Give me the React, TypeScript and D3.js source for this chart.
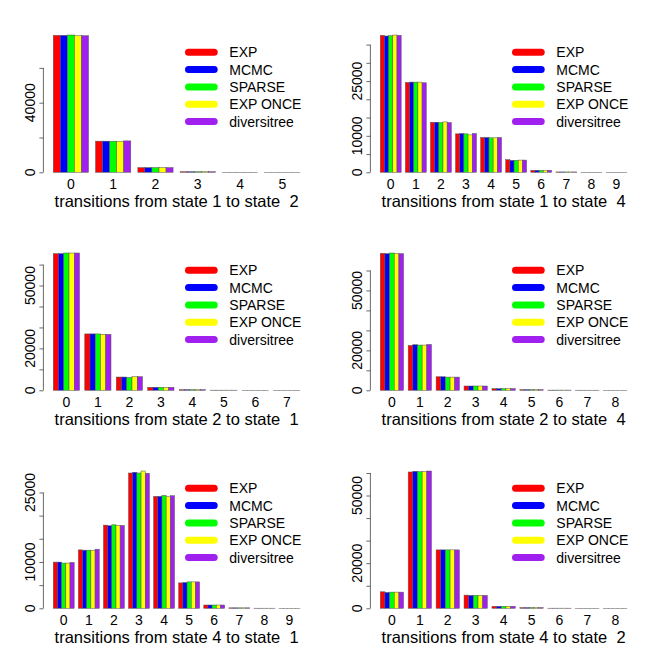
import React, { useEffect, useRef } from "react";
import * as d3 from "d3";

const methods = ["EXP", "MCMC", "SPARSE", "EXP ONCE", "diversitree"];
const colors = ["#FF0000", "#0000FF", "#00FF00", "#FFFF00", "#A020F0"];

// counts per number of transitions (rows) for each method (columns)
const t12 = [
  [78700, 78700, 78900, 78500, 78500],
  [17900, 17900, 17850, 17850, 18050],
  [2700, 2700, 2700, 2700, 2700],
  [350, 350, 340, 350, 350],
  [30, 30, 30, 30, 30],
  [5, 5, 5, 5, 5],
];
const t14 = [
  [37540, 37350, 37440, 37630, 37540],
  [24620, 24720, 24720, 24720, 24540],
  [13720, 13720, 13630, 13810, 13630],
  [10540, 10630, 10540, 10260, 10630],
  [9540, 9540, 9450, 9450, 9540],
  [3450, 3260, 3260, 3350, 3350],
  [540, 540, 540, 540, 540],
  [100, 100, 100, 100, 100],
  [12, 12, 12, 12, 12],
  [2, 2, 2, 2, 2],
];
const t21 = [
  [65210, 65210, 65530, 65530, 65530],
  [26910, 26910, 26910, 26750, 26750],
  [6330, 6330, 6170, 6490, 6490],
  [1430, 1430, 1430, 1430, 1430],
  [320, 320, 320, 320, 320],
  [60, 60, 60, 60, 60],
  [20, 20, 20, 20, 20],
  [5, 5, 5, 5, 5],
];
const t24 = [
  [68580, 68420, 68750, 68580, 68420],
  [22470, 22810, 22640, 22640, 22970],
  [6780, 6780, 6610, 6610, 6610],
  [2150, 2150, 2150, 2150, 2150],
  [830, 830, 830, 830, 830],
  [330, 330, 330, 330, 330],
  [100, 100, 100, 100, 100],
  [40, 40, 40, 40, 40],
  [10, 10, 10, 10, 10],
];
const t41 = [
  [9970, 9970, 9760, 9760, 9900],
  [12610, 12540, 12540, 12540, 12750],
  [17950, 17810, 18020, 17880, 17880],
  [29200, 29350, 29200, 29630, 29130],
  [24150, 24150, 24360, 24070, 24290],
  [5480, 5560, 5700, 5700, 5700],
  [710, 710, 710, 710, 710],
  [100, 100, 100, 100, 100],
  [20, 20, 20, 20, 20],
  [5, 5, 5, 5, 5],
];
const t42 = [
  [7320, 7020, 7170, 7170, 7170],
  [60440, 60730, 60580, 60580, 60870],
  [25900, 25900, 25900, 25900, 25900],
  [5850, 5710, 5710, 5710, 5710],
  [880, 880, 880, 880, 880],
  [300, 300, 300, 300, 300],
  [50, 50, 50, 50, 50],
  [10, 10, 10, 10, 10],
  [5, 5, 5, 5, 5],
];

const titles = [
  "transitions from state 1 to state  2",
  "transitions from state 1 to state  4",
  "transitions from state 2 to state  1",
  "transitions from state 2 to state  4",
  "transitions from state 4 to state  1",
  "transitions from state 4 to state  2",
];
const yTicks12 = [0, 20000, 40000, 60000];
const yLabels12 = [0, 40000];
const yTicks14 = [0, 5000, 10000, 15000, 20000, 25000, 30000, 35000];
const yLabels14 = [0, 10000, 25000];
const yTicks21 = [0, 10000, 20000, 30000, 40000, 50000, 60000];
const yLabels21 = [0, 20000, 50000];
const yTicks24 = [0, 10000, 20000, 30000, 40000, 50000, 60000];
const yLabels24 = [0, 20000, 50000];
const yTicks41 = [0, 5000, 10000, 15000, 20000, 25000];
const yLabels41 = [0, 10000, 25000];
const yTicks42 = [0, 10000, 20000, 30000, 40000, 50000, 60000];
const yLabels42 = [0, 20000, 50000];

const panels = [
  { data: t12, title: titles[0], ticks: yTicks12, labels: yLabels12 },
  { data: t14, title: titles[1], ticks: yTicks14, labels: yLabels14 },
  { data: t21, title: titles[2], ticks: yTicks21, labels: yLabels21 },
  { data: t24, title: titles[3], ticks: yTicks24, labels: yLabels24 },
  { data: t41, title: titles[4], ticks: yTicks41, labels: yLabels41 },
  { data: t42, title: titles[5], ticks: yTicks42, labels: yLabels42 },
];

const FONT = "'Liberation Sans', Arial, Helvetica, sans-serif";

export default function App() {
  const ref = useRef<SVGSVGElement>(null);
  useEffect(() => {
    const svg = d3.select(ref.current);
    svg.selectAll("*").remove();
    const PW = 327, PH = 218;
    const plotL = 43.4, plotR = 309.8, y0 = 172.3, yTop = 35;
    panels.forEach((p, k) => {
      const col = k % 2, row = Math.floor(k / 2);
      const g = svg.append("g").attr("transform", `translate(${col * PW},${row * PH})`);
      const n = p.data.length;
      const span = 6 * n - 1;
      const x = d3.scaleLinear().domain([1 - 0.04 * span, 6 * n + 0.04 * span]).range([plotL, plotR]);
      const maxV = d3.max(p.data.flat()) as number;
      const y = d3.scaleLinear().domain([0, maxV]).range([y0, yTop]);

      // bars
      p.data.forEach((grp, gi) => {
        grp.forEach((v, mi) => {
          const left = 6 * gi + 1 + mi;
          g.append("rect")
            .attr("x", x(left))
            .attr("y", y(v))
            .attr("width", x(left + 1) - x(left))
            .attr("height", y(0) - y(v))
            .attr("fill", colors[mi])
            .attr("stroke", "#555")
            .attr("stroke-width", 0.5);
        });
        g.append("text")
          .attr("x", x(6 * gi + 3.5))
          .attr("y", 189.3)
          .attr("text-anchor", "middle")
          .attr("font-family", FONT)
          .attr("font-size", 14)
          .attr("fill", "#000")
          .text(String(gi));
      });

      // y axis
      const ax = g.append("g").attr("transform", `translate(${plotL},0)`);
      ax.call(
        d3.axisLeft(y)
          .tickValues(p.ticks)
          .tickSize(4)
          .tickFormat(() => "")
      );
      ax.select(".domain").remove();
      ax.selectAll(".tick line").attr("stroke", "#444").attr("stroke-width", 0.8);
      ax.append("line")
        .attr("x1", 0).attr("x2", 0)
        .attr("y1", y(p.ticks[0]))
        .attr("y2", y(p.ticks[p.ticks.length - 1]))
        .attr("stroke", "#444")
        .attr("stroke-width", 0.8);
      p.labels.forEach((t) => {
        g.append("text")
          .attr("transform", `translate(35.3,${y(t)}) rotate(-90)`)
          .attr("text-anchor", "middle")
          .attr("font-family", FONT)
          .attr("font-size", 14)
          .attr("fill", "#000")
          .text(String(t));
      });

      // title
      g.append("text")
        .attr("x", (plotL + plotR) / 2)
        .attr("y", 206.7)
        .attr("text-anchor", "middle")
        .attr("font-family", FONT)
        .attr("font-size", 16.5)
        .attr("fill", "#000")
        .attr("style", "white-space: pre")
        .text(p.title);

      // legend
      methods.forEach((m, i) => {
        const ly = 52.3 + 17.3 * i;
        g.append("line")
          .attr("x1", 188.5).attr("x2", 214.2)
          .attr("y1", ly).attr("y2", ly)
          .attr("stroke", colors[i])
          .attr("stroke-width", 7)
          .attr("stroke-linecap", "round");
        g.append("text")
          .attr("x", 229.3)
          .attr("y", ly)
          .attr("dy", "0.36em")
          .attr("font-family", FONT)
          .attr("font-size", 14)
          .attr("fill", "#000")
          .text(m);
      });
    });
  }, []);
  return (
    <svg
      ref={ref}
      width={654}
      height={654}
      style={{ position: "absolute", left: 0, top: 0, background: "#fff" }}
    />
  );
}
